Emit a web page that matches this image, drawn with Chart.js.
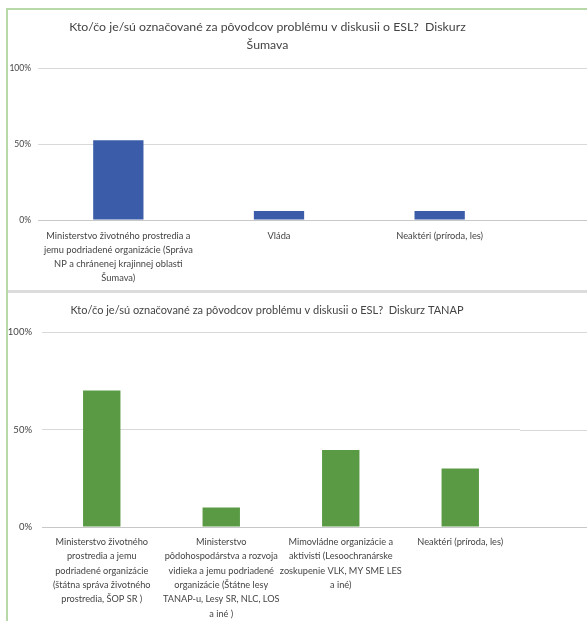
<!DOCTYPE html>
<html>
<head>
<meta charset="utf-8">
<script src="https://cdn.jsdelivr.net/npm/chart.js@4.4.1/dist/chart.umd.min.js"></script>
<style>
  html, body { margin: 0; padding: 0; background: #ffffff; }
  body { width: 587px; height: 621px; position: relative; overflow: hidden; }
  canvas { position: absolute; left: 0; }
  #c1 { top: 0; }
  #c2 { top: 293px; }
  .frame { position: absolute; }
  #greenLeft { left: 6px; top: 8px; width: 2px; height: 613px; background: #b7d8a8; }
  #greenTop { left: 6px; top: 8px; width: 581px; height: 2px; background: #b7d8a8; }
  #sep { left: 8px; top: 290px; width: 579px; height: 3px; background: #dcdcdc; }
</style>
</head>
<body>
<canvas id="c1" width="587" height="290"></canvas>
<canvas id="c2" width="587" height="328"></canvas>
<div class="frame" id="greenLeft"></div>
<div class="frame" id="greenTop"></div>
<div class="frame" id="sep"></div>
<script>
// Šumava discourse
const sumavaTitle = ["Kto/čo je/sú označované za pôvodcov problému v diskusii o ESL?  Diskurz", "Šumava"];
const sumavaCategories = [
  ["Ministerstvo životného prostredia a", "jemu podriadené organizácie (Správa", "NP a chránenej krajinnej oblasti", "Šumava)"],
  ["Vláda"],
  ["Neaktéri (príroda, les)"]
];
const sumavaValues = [52.5, 6, 6];

// TANAP discourse
const tanapTitle = "Kto/čo je/sú označované za pôvodcov problému v diskusii o ESL?  Diskurz TANAP";
const tanapCategories = [
  ["Ministerstvo životného", "prostredia a jemu", "podriadené organizácie", "(štátna správa životného", "prostredia, ŠOP SR )"],
  ["Ministerstvo", "pôdohospodárstva a rozvoja", "vidieka a jemu podriadené", "organizácie (Štátne lesy", "TANAP-u, Lesy SR, NLC, LOS", "a iné )"],
  ["Mimovládne organizácie a", "aktivisti (Lesoochranárske", "zoskupenie VLK, MY SME LES", "a iné)"],
  ["Neaktéri (príroda, les)"]
];
const tanapValues = [70, 10, 39.5, 30];

// shared y-axis ticks (percent)
const percentTicks = [0, 50, 100];

const FONT = "Lato, 'Open Sans', sans-serif";
const TEXT = '#444444';
const GRID = '#d9d9d9';
const BASE = '#c8c8c8';

// continue the horizontal gridlines past the plot to the canvas edge,
// and let the y tick labels use the space left of the axis box
const gridExtend = {
  id: 'gridExtend',
  afterLayout(chart) {
    chart.scales.y.left = 0;
  },
  beforeDatasetsDraw(chart) {
    const y = chart.scales.y, ctx = chart.ctx;
    ctx.save();
    ctx.lineWidth = 1;
    percentTicks.forEach(v => {
      const py = Math.round(y.getPixelForValue(v)) + 0.5;
      ctx.strokeStyle = v === 0 ? BASE : GRID;
      ctx.beginPath();
      ctx.moveTo(chart.chartArea.right, py);
      ctx.lineTo(chart.width, py);
      ctx.stroke();
    });
    ctx.restore();
  }
};

function makeChart(id, cfg) {
  return new Chart(document.getElementById(id), {
    type: 'bar',
    data: {
      labels: cfg.labels,
      datasets: [{
        data: cfg.values,
        backgroundColor: cfg.color,
        borderWidth: 0,
        barPercentage: 0.313,
        categoryPercentage: 1
      }]
    },
    plugins: [gridExtend],
    options: {
      responsive: false,
      animation: false,
      devicePixelRatio: 1,
      layout: { padding: cfg.padding },
      plugins: {
        legend: { display: false },
        tooltip: { enabled: false },
        title: {
          display: true,
          text: cfg.title,
          color: TEXT,
          font: { family: FONT, size: cfg.titleSize, weight: 'normal', lineHeight: '18px' },
          padding: cfg.titlePadding
        }
      },
      scales: {
        x: {
          grid: { display: false, drawTicks: false },
          border: { display: false },
          ticks: {
            color: TEXT,
            font: { family: FONT, size: cfg.catSize, lineHeight: cfg.catLine },
            padding: cfg.catPad,
            maxRotation: 0,
            autoSkip: false
          },
          afterFit(s) { s.height = cfg.xHeight; }
        },
        y: {
          min: 0, max: 100,
          afterBuildTicks(s) { s.ticks = percentTicks.map(v => ({ value: v })); },
          grid: {
            color: ctx => ctx.tick && ctx.tick.value === 0 ? BASE : GRID,
            drawTicks: false,
            lineWidth: 1
          },
          border: { display: false },
          ticks: {
            color: TEXT,
            font: { family: FONT, size: cfg.tickSize },
            padding: cfg.tickPad,
            callback: v => v + '%'
          },
          afterFit(s) { s.width = cfg.yWidth; }
        }
      }
    }
  });
}

makeChart('c1', {
  labels: sumavaCategories, values: sumavaValues, color: '#3b5ca9', title: sumavaTitle,
  titleSize: 12.3, titlePadding: { top: 18, bottom: 14 },
  padding: { left: 15, right: 67, top: 0, bottom: 0 },
  yWidth: 23, xHeight: 70, catSize: 9.3, catLine: '14px', catPad: 9,
  tickSize: 8.5, tickPad: 7
});

makeChart('c2', {
  labels: tanapCategories, values: tanapValues, color: '#5a9a45', title: tanapTitle,
  titleSize: 11, titlePadding: { top: 8, bottom: 13 },
  padding: { left: 14, right: 67, top: 0, bottom: 0 },
  yWidth: 28, xHeight: 94, catSize: 9.2, catLine: '14.3px', catPad: 8,
  tickSize: 9.5, tickPad: 10
});
</script>
</body>
</html>
